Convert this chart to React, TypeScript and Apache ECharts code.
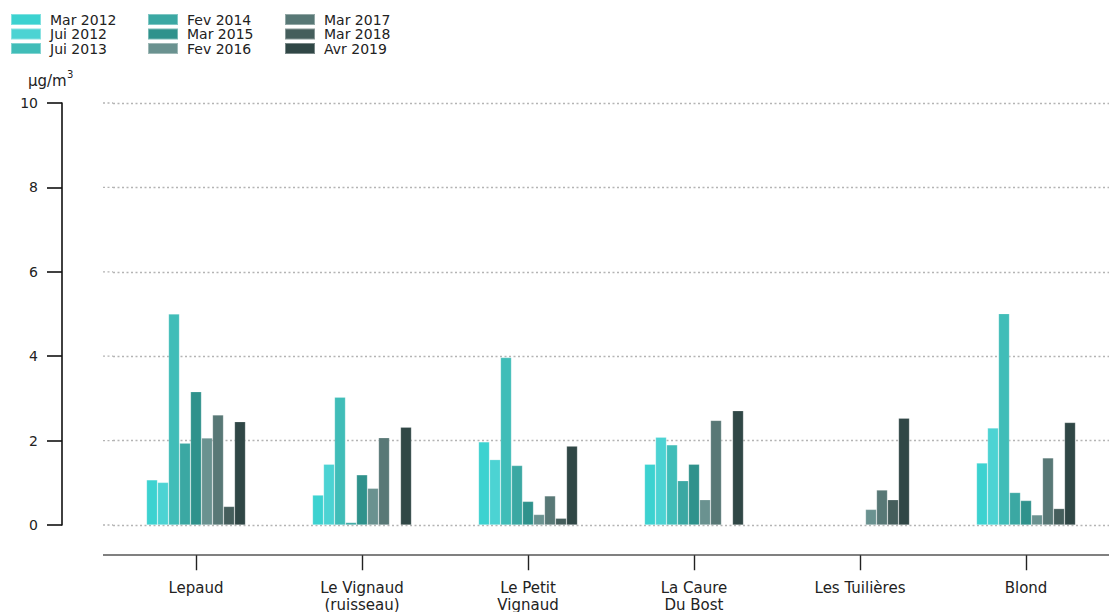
import React, { useEffect, useRef } from "react";
import * as echarts from "echarts";

const categories = [
  "Lepaud",
  "Le Vignaud\n(ruisseau)",
  "Le Petit\nVignaud",
  "La Caure\nDu Bost",
  "Les Tuilières",
  "Blond",
];

const seriesNames = [
  "Mar 2012",
  "Jui 2012",
  "Jui 2013",
  "Fev 2014",
  "Mar 2015",
  "Fev 2016",
  "Mar 2017",
  "Mar 2018",
  "Avr 2019",
];

const mar2012 = [1.07, 0.71, 1.97, 1.44, null, 1.47];
const jui2012 = [1.01, 1.44, 1.55, 2.08, null, 2.3];
const jui2013 = [5.0, 3.03, 3.97, 1.9, null, 5.01];
const fev2014 = [1.94, 0.06, 1.41, 1.05, null, 0.77];
const mar2015 = [3.16, 1.19, 0.56, 1.44, null, 0.58];
const fev2016 = [2.06, 0.87, 0.25, 0.6, 0.37, 0.24];
const mar2017 = [2.61, 2.07, 0.69, 2.48, 0.83, 1.59];
const mar2018 = [0.44, null, 0.16, null, 0.6, 0.39];
const avr2019 = [2.45, 2.32, 1.87, 2.71, 2.53, 2.43];

const seriesValues = [
  mar2012,
  jui2012,
  jui2013,
  fev2014,
  mar2015,
  fev2016,
  mar2017,
  mar2018,
  avr2019,
];

const yTicks = [0, 2, 4, 6, 8, 10];

const colors = [
  "#3cd2d0",
  "#4cd3d3",
  "#40bdb8",
  "#3ba8a3",
  "#2f928c",
  "#6a9290",
  "#587876",
  "#455e5c",
  "#304746",
];

const FONT = "DejaVu Sans";

export default function App() {
  const ref = useRef<HTMLDivElement>(null);

  useEffect(() => {
    if (!ref.current) return;
    const chart = echarts.init(ref.current, null, { renderer: "svg" });

    const gridTop = 103;
    const gridBottomY = 525;
    const gridLeft = 113;
    const gridWidth = 1000;
    const dash = [2, 2.5];

    const extGraphics: any[] = yTicks.map((t) => {
      const y = gridBottomY - ((gridBottomY - gridTop) * t) / 10;
      return {
        type: "line",
        shape: { x1: 103, y1: y, x2: gridLeft, y2: y },
        style: { stroke: "#b4b4b4", lineWidth: 1.3, lineDash: dash },
        silent: true,
      };
    });

    const legendCols = [
      { left: 10, items: seriesNames.slice(0, 3) },
      { left: 147, items: seriesNames.slice(3, 6) },
      { left: 284, items: seriesNames.slice(6, 9) },
    ];

    chart.setOption({
      animation: false,
      color: colors,
      textStyle: { fontFamily: FONT },
      legend: legendCols.map((c) => ({
        orient: "vertical",
        left: c.left,
        top: 12.5,
        padding: 0,
        itemWidth: 30,
        itemHeight: 11,
        itemGap: 0.5,
        icon: "rect",
        data: c.items,
        selectedMode: false,
        textStyle: {
          fontFamily: FONT,
          fontSize: 14,
          color: "#222",
          lineHeight: 14,
          padding: [0, 0, 0, 4],
        },
      })),
      grid: [
        {
          left: gridLeft,
          top: gridTop,
          width: gridWidth,
          height: gridBottomY - gridTop,
        },
        {
          left: gridLeft,
          top: 555,
          width: gridWidth,
          height: 1,
        },
      ],
      xAxis: [
        {
          type: "category",
          gridIndex: 0,
          data: categories,
          axisLine: { show: false },
          axisTick: { show: false },
          axisLabel: { show: false },
          splitLine: { show: false },
        },
        {
          type: "category",
          gridIndex: 1,
          position: "top",
          data: categories,
          axisLine: { show: false },
          axisTick: {
            show: true,
            inside: true,
            alignWithLabel: true,
            length: 15,
            lineStyle: { color: "#222", width: 1.4 },
          },
          axisLabel: {
            show: false,
          },
          splitLine: { show: false },
        },
        {
          type: "category",
          gridIndex: 1,
          position: "bottom",
          data: categories,
          axisLine: { show: false },
          axisTick: { show: false },
          axisLabel: {
            fontFamily: FONT,
            fontSize: 15,
            color: "#222",
            lineHeight: 17,
            margin: 24,
            interval: 0,
          },
          splitLine: { show: false },
        },
      ],
      yAxis: [
        {
          type: "value",
          gridIndex: 0,
          min: 0,
          max: 10,
          interval: 2,
          offset: gridLeft - 62,
          axisLine: { show: true, lineStyle: { color: "#111", width: 1.6 } },
          axisTick: {
            show: true,
            length: 15,
            lineStyle: { color: "#111", width: 1.6 },
          },
          axisLabel: {
            fontFamily: FONT,
            fontSize: 14,
            color: "#222",
            margin: 24,
          },
          splitLine: {
            show: true,
            lineStyle: { color: "#b4b4b4", width: 1.3, type: dash },
          },
        },
        {
          type: "value",
          gridIndex: 1,
          show: false,
        },
      ],
      graphic: [
        ...extGraphics,
        {
          type: "line",
          shape: { x1: 103, y1: 555, x2: 1109, y2: 555 },
          style: { stroke: "#808080", lineWidth: 2 },
          silent: true,
        },
        {
          type: "text",
          left: 28,
          top: 73,
          style: {
            text: "µg/m",
            fontFamily: FONT,
            fontSize: 15,
            fill: "#222",
          },
          silent: true,
        },
        {
          type: "text",
          left: 67,
          top: 69,
          style: {
            text: "3",
            fontFamily: FONT,
            fontSize: 10,
            fill: "#222",
          },
          silent: true,
        },
      ],
      series: seriesNames.map((name, i) => ({
        name,
        type: "bar",
        xAxisIndex: 0,
        yAxisIndex: 0,
        data: seriesValues[i],
        barWidth: 11,
        barGap: "0%",
        itemStyle: {
          color: colors[i],
          borderColor: "rgba(255,255,255,0.35)",
          borderWidth: 0.6,
        },
      })),
    });

    return () => chart.dispose();
  }, []);

  return (
    <div
      ref={ref}
      style={{ position: "absolute", left: 0, top: 0, width: 1109, height: 612 }}
    />
  );
}
